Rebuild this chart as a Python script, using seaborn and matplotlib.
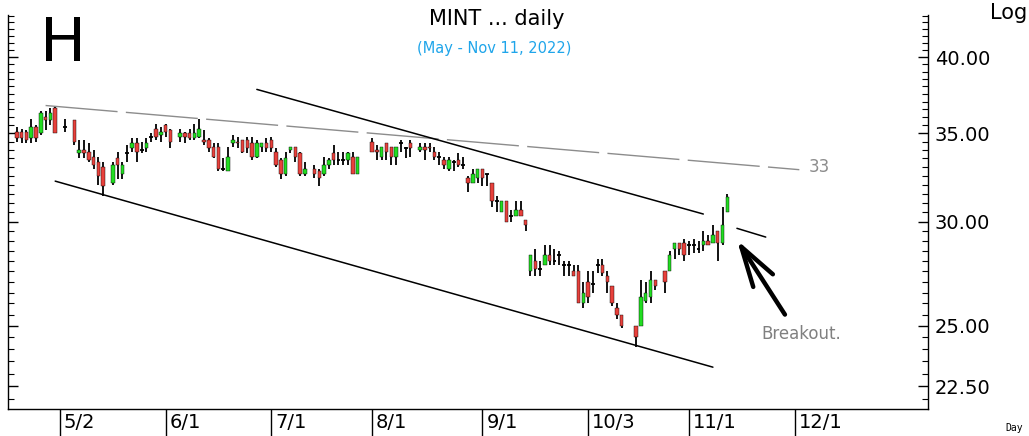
import numpy as np
import pandas as pd
import matplotlib
matplotlib.use("Agg")
import matplotlib.pyplot as plt
import seaborn as sns
from matplotlib.ticker import FixedLocator, FuncFormatter, NullFormatter
from matplotlib.transforms import ScaledTranslation

# trading-day data, Apr 19 - Nov 11 2022 (weekdays minus SET holidays)
holidays = ["2022-05-02", "2022-05-04", "2022-05-16", "2022-06-03", "2022-07-13",
            "2022-07-28", "2022-07-29", "2022-08-12", "2022-10-13", "2022-10-14",
            "2022-10-24"]

opens = [35.1, 35.1, 35.1, 34.7, 35.4, 35.0, 36.0, 35.8, 36.6,
         35.4,
         35.8, 33.8, 34.0, 33.9, 33.6, 33.3, 33.0,
         32.1, 33.5, 32.6, 33.8, 34.1, 34.4, 34.0, 34.1, 34.8, 35.3, 34.9, 35.5, 35.2,
         34.8, 35.0, 35.0, 34.7, 34.8, 34.6, 34.6, 34.2, 34.2, 32.9, 32.8, 34.4, 34.5, 34.6,
         34.6, 34.4, 33.6, 34.2, 34.4, 34.6, 33.9, 33.4, 32.6, 34.0, 34.2, 33.8, 32.6,
         32.9, 32.8, 32.6, 33.1, 33.8, 33.4, 33.4, 33.4, 33.6, 32.6,
         34.5, 34.0, 33.6, 34.4, 34.2, 33.6, 34.4, 34.1, 34.4,
         34.0, 34.2, 34.2, 33.9, 33.6, 33.4, 32.9, 33.3, 33.4, 33.1, 32.4, 32.1, 32.4, 32.9,
         32.6, 32.1, 31.1, 30.5, 31.1, 30.3, 30.3, 30.6, 30.1, 27.5, 28.0, 27.6, 27.8, 28.3,
         28.0, 28.3, 27.8, 27.8, 27.5, 27.5, 26.0, 27.0, 26.9, 27.8, 27.8, 27.3, 26.8, 25.8,
         25.5,
         25.0, 25.0, 26.1, 26.3, 27.1,
         27.5, 27.5, 28.6, 28.9, 28.9, 28.8, 28.8, 28.6, 28.8, 29.0, 28.9, 29.5, 28.9, 30.5]

highs = [35.4, 35.3, 35.2, 35.9, 35.5, 36.4, 36.4, 36.6, 36.7,
         35.9,
         35.8, 34.6, 34.6, 34.4, 34.0, 33.6, 33.3,
         33.3, 33.9, 33.3, 34.3, 34.7, 34.7, 34.5, 34.7, 35.0, 35.6, 35.4, 35.6, 35.3,
         35.3, 35.1, 35.3, 35.6, 35.9, 35.2, 34.7, 34.4, 34.4, 33.5, 34.2, 34.9, 34.8, 34.6,
         34.8, 34.8, 34.6, 34.4, 34.7, 34.8, 34.1, 33.5, 33.9, 34.2, 34.2, 33.9, 33.3,
         33.1, 32.9, 33.6, 33.5, 34.3, 33.9, 33.9, 33.9, 33.9, 33.6,
         34.7, 34.3, 34.2, 34.4, 34.2, 34.2, 34.6, 34.2, 34.6,
         34.4, 34.4, 34.4, 34.2, 33.9, 33.6, 33.6, 33.4, 33.8, 33.6, 32.5, 32.9, 32.9, 32.9,
         32.6, 32.1, 31.4, 31.1, 31.1, 30.6, 31.1, 31.1, 30.1, 28.3, 28.6, 28.0, 28.8, 28.8,
         28.6, 28.5, 28.0, 28.0, 27.8, 27.8, 27.0, 27.5, 27.5, 28.1, 28.1, 27.5, 26.8, 26.0,
         25.5,
         25.0, 27.1, 27.0, 27.5, 27.1,
         27.5, 28.5, 28.9, 28.9, 29.1, 29.0, 29.1, 29.0, 29.5, 29.3, 29.8, 29.5, 30.8, 31.5]

lows = [34.5, 34.4, 34.4, 34.4, 34.5, 34.9, 35.2, 35.5, 35.0,
        35.1,
        34.3, 33.5, 33.5, 33.3, 32.9, 32.0, 31.4,
        32.0, 32.3, 32.3, 33.3, 33.9, 33.3, 33.8, 33.9, 34.5, 34.6, 34.5, 34.8, 34.1,
        34.5, 34.4, 34.6, 34.6, 34.7, 34.3, 33.9, 33.5, 32.8, 32.8, 32.8, 34.2, 34.1, 33.8,
        33.8, 33.4, 33.5, 33.9, 33.9, 33.9, 33.0, 32.3, 32.5, 33.8, 33.3, 32.5, 32.5,
        32.4, 31.9, 32.5, 32.9, 33.1, 33.1, 33.1, 33.1, 32.6, 32.6,
        33.9, 33.4, 33.4, 33.4, 33.1, 33.1, 33.9, 33.5, 33.6,
        33.9, 33.4, 33.9, 33.4, 33.1, 32.9, 32.8, 32.8, 33.0, 32.9, 31.6, 32.1, 32.1, 31.9,
        31.9, 30.8, 30.5, 30.5, 30.0, 30.0, 30.3, 30.3, 29.5, 27.3, 27.3, 27.3, 27.8, 27.8,
        27.8, 27.8, 27.3, 27.3, 27.3, 26.0, 25.8, 26.0, 26.5, 27.4, 27.3, 26.5, 25.9, 25.3,
        24.9,
        24.1, 25.0, 26.0, 26.0, 26.6,
        26.5, 27.5, 28.1, 28.3, 28.0, 28.3, 28.4, 28.4, 28.5, 28.8, 28.9, 28.0, 28.8, 30.5]

closes = [34.7, 34.7, 34.6, 35.4, 34.7, 36.3, 35.8, 36.3, 35.0,
          35.4,
          34.5, 34.0, 33.8, 33.4, 33.1, 32.5, 31.9,
          33.1, 33.1, 33.1, 33.8, 34.4, 33.9, 34.0, 34.4, 34.8, 34.8, 35.1, 35.1, 34.5,
          35.0, 34.8, 34.7, 35.0, 35.3, 34.5, 34.1, 33.6, 32.9, 32.9, 33.6, 34.6, 34.4, 33.9,
          34.1, 33.6, 34.4, 34.4, 34.1, 34.1, 33.1, 32.6, 33.5, 34.2, 33.6, 32.6, 32.9,
          32.6, 32.4, 33.1, 33.4, 33.4, 33.4, 33.4, 33.8, 32.6, 33.6,
          33.9, 33.9, 34.2, 33.9, 33.6, 34.2, 34.4, 34.1, 34.1,
          34.2, 34.0, 34.1, 33.6, 33.6, 33.1, 33.4, 33.3, 33.1, 33.1, 32.1, 32.6, 32.9, 32.4,
          32.6, 31.1, 31.1, 31.1, 30.0, 30.3, 30.6, 30.3, 29.8, 28.3, 27.6, 27.6, 28.3, 28.0,
          28.0, 28.3, 27.8, 27.8, 27.3, 26.0, 26.5, 26.3, 26.9, 27.8, 27.4, 27.0, 26.0, 25.5,
          25.0,
          24.5, 26.3, 26.5, 27.1, 26.8,
          27.0, 28.3, 28.9, 28.6, 28.3, 28.8, 28.8, 28.6, 29.0, 28.8, 29.3, 28.9, 29.8, 31.3]

month_dates = ["2022-05-02", "2022-06-01", "2022-07-01", "2022-08-01",
               "2022-09-01", "2022-10-03", "2022-11-01", "2022-12-01"]
month_labels = ["5/2", "6/1", "7/1", "8/1", "9/1", "10/3", "11/1", "12/1"]
price_ticks = [22.5, 25.0, 30.0, 35.0, 40.0]

# trend lines drawn on the chart (dates, prices)
dash_dates, dash_prices = ["2022-04-27", "2022-12-02"], [36.75, 32.85]
upper_dates, upper_prices = ["2022-06-28", "2022-11-04"], [37.8, 30.4]
upper2_dates, upper2_prices = ["2022-11-15", "2022-11-23"], [29.65, 29.2]
lower_dates, lower_prices = ["2022-04-29", "2022-11-08"], [32.2, 23.26]

# x axis = weekday index, holidays left as empty slots
all_days = pd.bdate_range("2022-04-19", "2022-12-30")
trading = all_days[:149].difference(pd.to_datetime(holidays))
df = pd.DataFrame({"date": trading, "open": opens, "high": highs,
                   "low": lows, "close": closes})
df["pos"] = all_days.get_indexer(df["date"])


def pos(d):
    return all_days.get_loc(pd.Timestamp(d))


sns.set_theme(style="white")
plt.rcParams["font.family"] = ["DejaVu Sans"]
plt.rcParams["text.color"] = "black"

fig = plt.figure(figsize=(10.29, 4.36), dpi=100)
ax = fig.add_axes([8 / 1029, 27 / 436, 920 / 1029, 394 / 436])
ax.set_yscale("log")

GREEN, RED = "#22dd22", "#e8413c"
up = df[df.close > df.open]
dn = df[df.close < df.open]
flat = df[df.close == df.open]

ax.vlines(df.pos, df.low, df.high, color="black", lw=1.3, zorder=2)
ax.bar(up.pos, up.close - up.open, bottom=up.open, width=0.72, color=GREEN,
       edgecolor="black", linewidth=0.3, zorder=3)
ax.bar(dn.pos, dn.open - dn.close, bottom=dn.close, width=0.72, color=RED,
       edgecolor="black", linewidth=0.3, zorder=3)
ax.hlines(flat.close, flat.pos - 0.4, flat.pos + 0.4, color="black", lw=1.3, zorder=3)

# trend lines
sns.lineplot(x=[pos(d) for d in dash_dates], y=dash_prices, ax=ax, color="#8c8c8c",
             lw=1.0, linestyle=(0, (52, 6)), zorder=4)
for dts, prs in [(upper_dates, upper_prices), (upper2_dates, upper2_prices),
                 (lower_dates, lower_prices)]:
    sns.lineplot(x=[pos(d) for d in dts], y=prs, ax=ax, color="black", lw=1.1, zorder=4)

ax.text(pos("2022-12-06"), 33.0, "33", color="#8c8c8c", fontsize=12, va="center")
ax.annotate("", xy=(pos("2022-11-15"), 29.05), xytext=(pos("2022-11-29"), 25.5),
            arrowprops=dict(arrowstyle="->, head_length=1.45, head_width=0.42",
                            color="black", lw=3.2, mutation_scale=20,
                            shrinkA=0, shrinkB=0))
ax.text(pos("2022-11-22"), 24.65, "Breakout.", color="#808080", fontsize=12, va="center")

# axes
ax.set_xlim(-1.83, 189.8)
ax.set_ylim(21.62, 43.05)
ax.yaxis.set_major_locator(FixedLocator(price_ticks))
ax.yaxis.set_major_formatter(FuncFormatter(lambda v, _: f"{v:.2f}"))
ax.yaxis.set_minor_locator(FixedLocator(np.arange(22.0, 43.5, 0.5)))
ax.yaxis.set_minor_formatter(NullFormatter())
ax.tick_params(axis="y", which="both", left=True, right=True, labelleft=False,
               labelright=True, direction="in", colors="black", labelsize=14)
ax.tick_params(axis="y", which="major", length=7, width=1, pad=5)
ax.tick_params(axis="y", which="minor", length=4, width=0.8)

ax.set_xticks([pos(d) for d in month_dates])
ax.set_xticklabels(month_labels, ha="left", fontsize=14)
ax.tick_params(axis="x", which="major", bottom=True, direction="out", length=19.5,
               width=1, pad=-16.5, colors="black")
ax.spines["top"].set_visible(False)
for s in ["left", "right", "bottom"]:
    ax.spines[s].set_color("black")
    ax.spines[s].set_linewidth(1)
ax.grid(False)
ax.set_xlabel("")
ax.set_ylabel("")
shift = ScaledTranslation(4 / 100, 0, fig.dpi_scale_trans)
for lab in ax.get_xticklabels():
    lab.set_transform(lab.get_transform() + shift)

# titles and corner text
fig.text(497 / 1029, 1 - 19 / 436, "MINT ... daily", ha="center", va="center",
         fontsize=15, color="black")
fig.text(494 / 1029, 1 - 48 / 436, "(May - Nov 11, 2022)", ha="center", va="center",
         fontsize=10.5, color="#1fa5ea")
fig.text(63 / 1029, 1 - 44 / 436, "H", ha="center", va="center", fontsize=44,
         color="black")
fig.text(990 / 1029, 1 - 13 / 436, "Log", ha="left", va="center", fontsize=15,
         color="black")
fig.text(1005 / 1029, 1 - 428 / 436, "Day", ha="left", va="center", fontsize=7,
         family="DejaVu Sans Mono", color="black")

fig.savefig("out.png", dpi=100)
